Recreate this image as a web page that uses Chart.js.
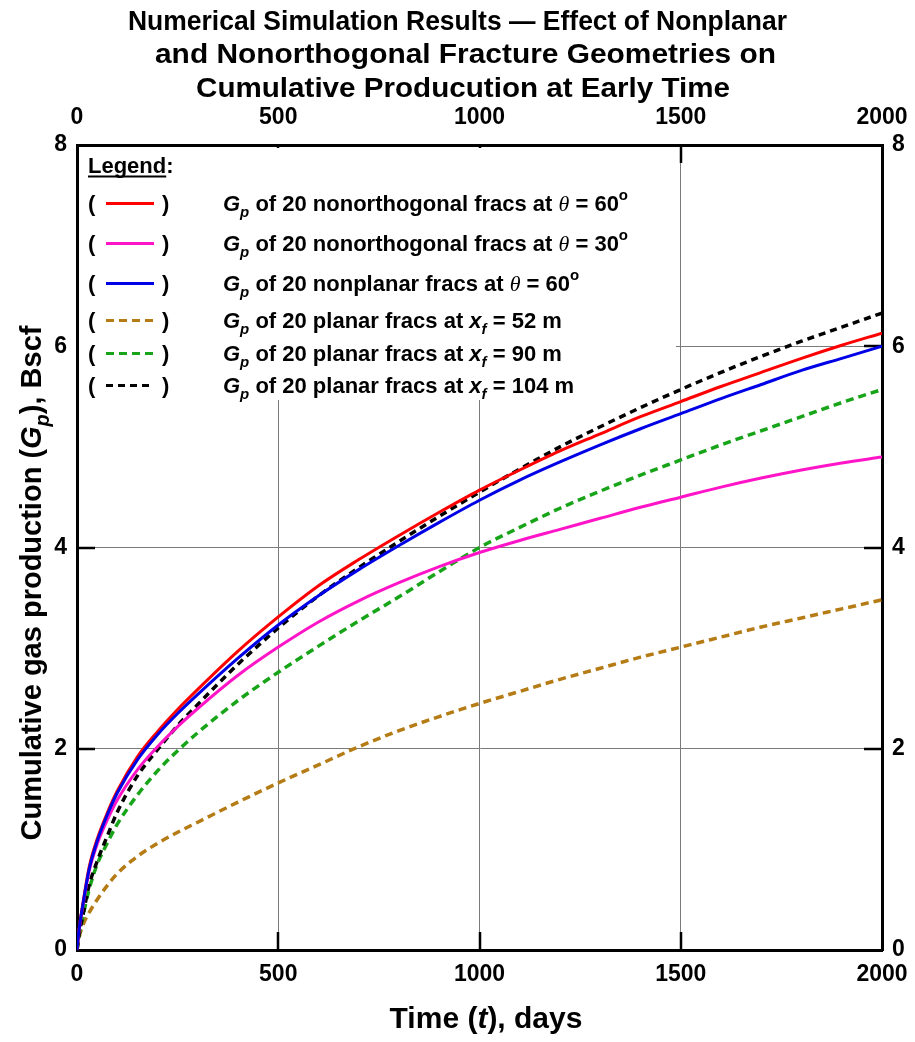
<!DOCTYPE html>
<html>
<head>
<meta charset="utf-8">
<script src="https://cdn.jsdelivr.net/npm/chart.js@4/dist/chart.umd.min.js"></script>
<style>
  html, body { margin: 0; padding: 0; background: #fff; }
  canvas { display: block; }
</style>
</head>
<body>
<canvas id="c" width="915" height="1042"></canvas>
<script>
// Output times, days
const days = [0, 5, 15, 30, 50, 75, 100, 150, 200, 250, 300, 400, 500, 600, 700, 800, 900, 1000,
              1100, 1200, 1300, 1400, 1500, 1600, 1700, 1800, 1900, 2000];

// Cumulative gas production, Bscf
const gpNonorth60 = [0, 0.20, 0.47, 0.82, 1.10, 1.36, 1.58, 1.92, 2.17, 2.39, 2.59, 2.97, 3.31, 3.62, 3.88, 4.12, 4.35, 4.57,
                     4.77, 4.96, 5.13, 5.30, 5.45, 5.60, 5.74, 5.88, 6.01, 6.13];
const gpNonorth30 = [0, 0.19, 0.45, 0.78, 1.05, 1.29, 1.49, 1.79, 2.02, 2.22, 2.40, 2.73, 3.01, 3.26, 3.47, 3.65, 3.81, 3.95,
                     4.07, 4.18, 4.29, 4.40, 4.50, 4.60, 4.69, 4.77, 4.84, 4.90];
const gpNonplanar60 = [0, 0.20, 0.46, 0.80, 1.08, 1.34, 1.56, 1.89, 2.14, 2.35, 2.54, 2.90, 3.23, 3.52, 3.78, 4.02, 4.25, 4.47,
                       4.67, 4.85, 5.02, 5.18, 5.33, 5.48, 5.62, 5.76, 5.88, 6.00];
const gpPlanar52 = [0, 0.12, 0.25, 0.37, 0.50, 0.64, 0.76, 0.93, 1.06, 1.17, 1.27, 1.47, 1.66, 1.84, 2.02, 2.18, 2.32, 2.45,
                    2.57, 2.69, 2.80, 2.91, 3.01, 3.11, 3.21, 3.30, 3.39, 3.48];
const gpPlanar90 = [0, 0.14, 0.34, 0.60, 0.85, 1.06, 1.25, 1.54, 1.78, 1.98, 2.16, 2.48, 2.76, 3.02, 3.27, 3.51, 3.76, 4.00,
                    4.20, 4.39, 4.56, 4.72, 4.87, 5.02, 5.16, 5.30, 5.44, 5.57];
const gpPlanar104 = [0, 0.15, 0.35, 0.64, 0.88, 1.13, 1.37, 1.73, 1.99, 2.23, 2.44, 2.84, 3.20, 3.52, 3.80, 4.06, 4.31, 4.55,
                     4.78, 5.00, 5.20, 5.39, 5.57, 5.74, 5.90, 6.05, 6.19, 6.33];

// Axis ranges and tick steps
const timeRange = [0, 2000];
const timeStep = 500;
const gpRange = [0, 8];
const gpStep = 2;

// Title lines
const titleLines = [
  'Numerical Simulation Results \u2014 Effect of Nonplanar',
  'and Nonorthogonal Fracture Geometries on',
  'Cumulative Producution at Early Time'
];

// Legend entries (rich text segments)
const seriesLabels = [
  [{t: 'G', i: 1}, {t: 'p', i: 1, sub: 1}, {t: ' of 20 nonorthogonal fracs at '}, {t: '\u03b8', th: 1}, {t: ' = 60'}, {t: 'o', sup: 1}],
  [{t: 'G', i: 1}, {t: 'p', i: 1, sub: 1}, {t: ' of 20 nonorthogonal fracs at '}, {t: '\u03b8', th: 1}, {t: ' = 30'}, {t: 'o', sup: 1}],
  [{t: 'G', i: 1}, {t: 'p', i: 1, sub: 1}, {t: ' of 20 nonplanar fracs at '}, {t: '\u03b8', th: 1}, {t: ' = 60'}, {t: 'o', sup: 1}],
  [{t: 'G', i: 1}, {t: 'p', i: 1, sub: 1}, {t: ' of 20 planar fracs at '}, {t: 'x', i: 1}, {t: 'f', i: 1, sub: 1}, {t: ' = 52 m'}],
  [{t: 'G', i: 1}, {t: 'p', i: 1, sub: 1}, {t: ' of 20 planar fracs at '}, {t: 'x', i: 1}, {t: 'f', i: 1, sub: 1}, {t: ' = 90 m'}],
  [{t: 'G', i: 1}, {t: 'p', i: 1, sub: 1}, {t: ' of 20 planar fracs at '}, {t: 'x', i: 1}, {t: 'f', i: 1, sub: 1}, {t: ' = 104 m'}]
];
const xTitle = [{t: 'Time ('}, {t: 't', i: 1}, {t: '), days'}];
const yTitle = [{t: 'Cumulative gas production ('}, {t: 'G', i: 1}, {t: 'p', i: 1, sub: 1}, {t: '), Bscf'}];

const SANS = '"Liberation Sans", Arial, Helvetica, sans-serif';
const NARROW = '"Liberation Sans Narrow", "Arial Narrow", "Liberation Sans", Arial, sans-serif';

const pts = arr => days.map((d, i) => ({x: d, y: arr[i]}));

const styles = [
  {data: gpNonorth60, color: '#ff0000', dash: [], order: 1},
  {data: gpNonorth30, color: '#ff14c8', dash: [], order: 2},
  {data: gpNonplanar60, color: '#0000e6', dash: [], order: 0},
  {data: gpPlanar52, color: '#b57b14', dash: [8, 5], order: 5},
  {data: gpPlanar90, color: '#18a418', dash: [8, 5], order: 4},
  {data: gpPlanar104, color: '#000000', dash: [7, 5], order: 3}
];

const datasets = styles.map((s, k) => ({
  label: 'series' + k,
  data: pts(s.data),
  borderColor: s.color,
  backgroundColor: s.color,
  borderWidth: s.dash.length ? 3.5 : 3,
  borderDash: s.dash,
  pointRadius: 0,
  fill: false,
  cubicInterpolationMode: 'monotone',
  order: s.order
}));

function segFont(s, size) {
  const fs = (s.sub || s.sup) ? Math.round(size * 0.68) : size;
  const italic = s.i || s.th ? 'italic ' : '';
  const weight = s.th ? 'normal ' : 'bold ';
  const fam = s.th ? '"Liberation Serif", "DejaVu Serif", serif' : SANS;
  return italic + weight + fs + 'px ' + fam;
}
function drawRich(ctx, x, y, segs, size) {
  for (const s of segs) {
    let dy = 0;
    if (s.sub) dy = size * 0.28;
    if (s.sup) dy = -size * 0.5;
    ctx.font = segFont(s, size);
    ctx.fillText(s.t, x, y + dy);
    x += ctx.measureText(s.t).width;
  }
  return x;
}
function richWidth(ctx, segs, size) {
  let w = 0;
  for (const s of segs) {
    ctx.font = segFont(s, size);
    w += ctx.measureText(s.t).width;
  }
  return w;
}

const decor = {
  id: 'decor',
  beforeDatasetsDraw(chart) {
    const {ctx, chartArea: a, scales} = chart;
    ctx.save();
    ctx.strokeStyle = '#000';
    ctx.lineWidth = 2.5;
    ctx.beginPath();
    scales.x.ticks.forEach(t => {
      if (t.value <= timeRange[0] || t.value >= timeRange[1]) return;
      const px = Math.round(scales.x.getPixelForValue(t.value));
      ctx.moveTo(px, a.bottom); ctx.lineTo(px, a.bottom - 18);
      ctx.moveTo(px, a.top); ctx.lineTo(px, a.top + 18);
    });
    scales.y.ticks.forEach(t => {
      if (t.value <= gpRange[0] || t.value >= gpRange[1]) return;
      const py = Math.round(scales.y.getPixelForValue(t.value));
      ctx.moveTo(a.left, py); ctx.lineTo(a.left + 18, py);
      ctx.moveTo(a.right, py); ctx.lineTo(a.right - 18, py);
    });
    ctx.stroke();
    // legend panel background
    ctx.fillStyle = '#fff';
    ctx.fillRect(a.left + 2, a.top + 3, 566, 252);
    ctx.fillRect(a.left + 2, a.top + 3, 597, 215);
    ctx.restore();
  },
  afterDatasetsDraw(chart) {
    const {ctx, chartArea: a} = chart;
    ctx.save();
    ctx.fillStyle = '#000';
    ctx.textBaseline = 'alphabetic';
    ctx.textAlign = 'left';
    const size = 22;
    const lx = a.left + 11;
    // heading
    ctx.font = 'bold ' + size + 'px ' + SANS;
    ctx.fillText('Legend', lx, a.top + 28);
    const wl = ctx.measureText('Legend').width;
    ctx.fillText(':', lx + wl, a.top + 28);
    ctx.fillRect(lx, a.top + 30.5, wl, 2);
    const rows = [58, 98, 138, 175, 208, 240];
    rows.forEach((ry, k) => {
      const base = a.top + ry + 8;
      ctx.fillStyle = '#000';
      ctx.font = 'bold ' + size + 'px ' + SANS;
      ctx.fillText('(', lx, base);
      ctx.fillText(')', lx + 74, base);
      const s = styles[k];
      ctx.beginPath();
      ctx.strokeStyle = s.color;
      ctx.lineWidth = 3;
      ctx.setLineDash(s.dash);
      ctx.moveTo(lx + 18, a.top + ry + 0.5);
      ctx.lineTo(lx + 66, a.top + ry + 0.5);
      ctx.stroke();
      ctx.setLineDash([]);
      drawRich(ctx, a.left + 146, base, seriesLabels[k], size);
    });
    ctx.restore();
  },
  afterDraw(chart) {
    const {ctx} = chart;
    ctx.save();
    ctx.fillStyle = '#000';
    ctx.textBaseline = 'alphabetic';
    // title, condensed bold
    ctx.font = 'bold 28px ' + NARROW;
    const titleSpan = [[128, 787], [155, 776], [196, 730]];
    const ty = [30, 63, 97];
    titleLines.forEach((line, k) => {
      const w = ctx.measureText(line).width;
      const [l, r] = titleSpan[k];
      ctx.save();
      ctx.translate(l, ty[k]);
      ctx.scale((r - l) / w, 1);
      ctx.fillText(line, 0, 0);
      ctx.restore();
    });
    // x axis title
    const tsz = 30;
    const wx = richWidth(ctx, xTitle, tsz);
    drawRich(ctx, 486 - wx / 2, 1028, xTitle, tsz);
    // y axis title
    const ysz = 29;
    const wy = richWidth(ctx, yTitle, ysz);
    ctx.save();
    ctx.translate(41, 583);
    ctx.rotate(-Math.PI / 2);
    drawRich(ctx, -wy / 2, 0, yTitle, ysz);
    ctx.restore();
    ctx.restore();
  }
};

const tickFont = {family: SANS, size: 23, weight: 'bold'};
const commonBorder = {display: true, color: '#000', width: 3};
const plainNum = v => String(v);
function noPadH(s) { s.paddingLeft = 0; s.paddingRight = 0; }
function noPadV(s) { s.paddingTop = 0; s.paddingBottom = 0; }

new Chart(document.getElementById('c'), {
  type: 'line',
  data: {datasets},
  options: {
    responsive: false,
    devicePixelRatio: 1,
    animation: false,
    events: [],
    layout: {padding: 0},
    plugins: {legend: {display: false}, title: {display: false}, tooltip: {enabled: false}},
    scales: {
      x: {
        type: 'linear', position: 'bottom', min: timeRange[0], max: timeRange[1],
        ticks: {stepSize: timeStep, font: tickFont, color: '#000', padding: 11, maxRotation: 0, callback: plainNum},
        grid: {color: '#7a7a7a', lineWidth: 1, drawTicks: false},
        border: commonBorder,
        afterFit(s) { s.height = 92; noPadH(s); }
      },
      x2: {
        type: 'linear', position: 'top', min: timeRange[0], max: timeRange[1],
        ticks: {stepSize: timeStep, font: tickFont, color: '#000', padding: 14, maxRotation: 0, callback: plainNum},
        grid: {display: false, drawTicks: false},
        border: commonBorder,
        afterFit(s) { s.height = 145; noPadH(s); }
      },
      y: {
        type: 'linear', position: 'left', min: gpRange[0], max: gpRange[1],
        ticks: {stepSize: gpStep, font: tickFont, color: '#000', padding: 10, callback: plainNum},
        grid: {color: '#7a7a7a', lineWidth: 1, drawTicks: false},
        border: commonBorder,
        afterFit(s) { s.width = 77; noPadV(s); }
      },
      y2: {
        type: 'linear', position: 'right', min: gpRange[0], max: gpRange[1],
        ticks: {stepSize: gpStep, font: tickFont, color: '#000', padding: 10, callback: plainNum},
        grid: {display: false, drawTicks: false},
        border: commonBorder,
        afterFit(s) { s.width = 33; noPadV(s); }
      }
    }
  },
  plugins: [decor]
});
</script>
</body>
</html>
